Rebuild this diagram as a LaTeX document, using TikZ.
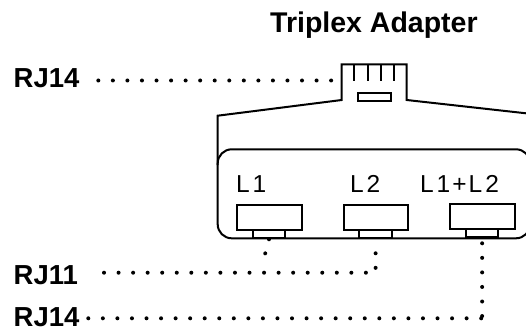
\documentclass[tikz,border=0pt]{standalone}
\usepackage{fontspec}
\usetikzlibrary{decorations.markings}
\setmainfont{Liberation Sans}
\newfontfamily\labfont[LetterSpace=12]{Liberation Sans}
\begin{document}
\begin{tikzpicture}[x=1pt,y=-1pt,
  outline/.style={draw=black,line width=2pt,line join=miter},
  boxnode/.style={outline,rectangle,inner sep=0pt,anchor=north west,fill=white},
  dotline/.style={decorate,decoration={markings,mark=between positions #1 and 1 step 14.55pt with {\fill[black] (0,0) circle (2pt);}}},
  dotline/.default=0.01pt,
  title/.style={inner sep=0pt,anchor=base west,font=\fontsize{28.5}{30}\selectfont\bfseries},
  rjlabel/.style={inner sep=0pt,anchor=base west,font=\fontsize{27.5}{30}\selectfont\bfseries},
  portlabel/.style={inner sep=0pt,anchor=base west,font=\fontsize{24.5}{26}\selectfont\labfont}]
\useasboundingbox (0,0) rectangle (526,331);
\clip (0,0) rectangle (526,331);
% labels
\node[title] (ttl) at (270,33) {Triplex Adapter};
\node[rjlabel] (rja) at (13.5,87.5) {RJ14};
\node[rjlabel] (rjb) at (13.5,284) {RJ11};
\node[rjlabel] (rjc) at (13.5,326.5) {RJ14};
\node[portlabel] (la) at (236,192) {L1};
\node[portlabel] (lb) at (350,192) {L2};
\node[portlabel] (lc) at (420,192) {L1\kern2pt+\kern2ptL2};
% adapter outline
\draw[outline] (217.7,165) -- (217.7,115.7) -- (341.7,100) -- (341.7,64.3)
  -- (406.7,64.3) -- (406.7,100) -- (526,113.3);
\draw[outline,rounded corners=14pt] (217.7,190) -- (217.7,149.3) -- (530,149.3) -- (530,238.3) -- (217.7,238.3) -- cycle;
% plug pins and slot
\foreach \i/\px in {1/354.3,2/367.7,3/380.7,4/394}
  \draw[outline] (\px,64.3) -- (\px,80.7);
\node[boxnode,minimum width=33pt,minimum height=8.3pt] (slot) at (357,91.7) {};
\coordinate (plugw) at (336,80.5);
% sockets
\node[boxnode,minimum width=32.6pt,minimum height=8.3pt] (taba) at (251.7,229) {};
\node[boxnode,minimum width=32.6pt,minimum height=8.3pt] (tabb) at (358.3,229) {};
\node[boxnode,minimum width=32.3pt,minimum height=8.3pt] (tabc) at (465,228) {};
\node[boxnode,minimum width=65pt,minimum height=25pt] (socka) at (236,204) {};
\node[boxnode,minimum width=64.6pt,minimum height=25pt] (sockb) at (342.7,204) {};
\node[boxnode,minimum width=64.7pt,minimum height=24.7pt] (sockc) at (449.3,203.3) {};
% dotted connectors
\coordinate (da) at (98.3,80.5);
\coordinate (db) at (104,272.7);
\coordinate (dc) at (88.3,318.3);
\coordinate (ea) at (261.7,266.5);
\coordinate (ec) at (482,318.3);
\path[dotline] (da) -- (plugw);
\path[dotline] (db) -| (tabb.south);
\path[dotline] (taba.south) -- (ea);
\path[dotline] (dc) -- (ec);
\path[dotline=5pt] (tabc.south) -- (tabc.south |- ec);
\end{tikzpicture}
\end{document}
